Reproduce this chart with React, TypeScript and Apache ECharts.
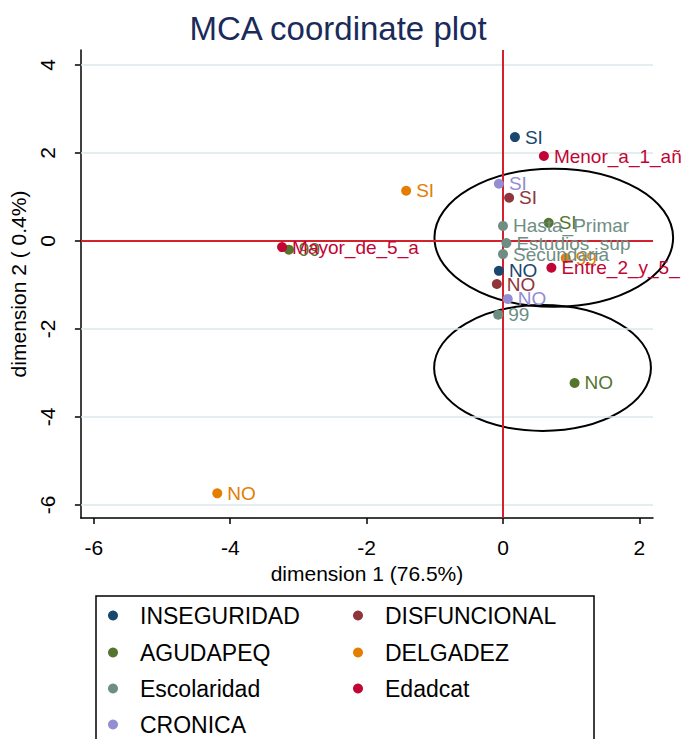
import React, { useEffect, useRef } from "react";
import * as echarts from "echarts";

const FONT = "'Liberation Sans', Arial, Helvetica, sans-serif";

const seriesNames = ["INSEGURIDAD", "DISFUNCIONAL", "AGUDAPEQ", "DELGADEZ", "Escolaridad", "Edadcat", "CRONICA"];
const seriesColors = ["#1a476f", "#90353b", "#55752f", "#e37e00", "#6e8e84", "#c10534", "#938dd2"];

// [dimension1, dimension2, category label]
const inseguridad: [number, number, string][] = [[0.175, 2.36, "SI"], [-0.06, -0.68, "NO"]];
const disfuncional: [number, number, string][] = [[0.09, 0.98, "SI"], [-0.09, -0.98, "NO"]];
const agudapeq: [number, number, string][] = [[0.67, 0.41, "SI"], [1.05, -3.23, "NO"], [-3.14, -0.2, "99"]];
const delgadez: [number, number, string][] = [[-1.42, 1.14, "SI"], [-4.19, -5.74, "NO"], [0.92, -0.39, "99"]];
const escolaridad: [number, number, string][] = [
  [0.0, 0.34, "Hasta_Primar"],
  [0.05, -0.05, "Estudios_sup"],
  [0.0, -0.3, "Secundaria"],
  [-0.07, -1.68, "99"],
];
const edadcat: [number, number, string][] = [[0.6, 1.93, "Menor_a_1_añ"], [0.71, -0.61, "Entre_2_y_5_"], [-3.24, -0.14, "Mayor_de_5_a"]];
const cronica: [number, number, string][] = [[-0.06, 1.3, "SI"], [0.07, -1.32, "NO"]];
const allSeries = [inseguridad, disfuncional, agudapeq, delgadez, escolaridad, edadcat, cronica];

// ellipses: [cx, cy, rx, ry] in data units
const ellipses: [number, number, number, number][] = [[0.745, 0.07, 1.75, 1.57], [0.58, -2.89, 1.59, 1.43]];

const xTicks = [-6, -4, -2, 0, 2];
const yTicks = [-6, -4, -2, 0, 2, 4];

// legend layout: [column, row]
const legendPos: [number, number][] = [[0, 0], [1, 0], [0, 1], [1, 1], [0, 2], [1, 2], [0, 3]];

export default function App() {
  const ref = useRef<HTMLDivElement>(null);
  useEffect(() => {
    if (!ref.current) return;
    const chart = echarts.init(ref.current, undefined, { renderer: "svg" });
    const scatter = allSeries.map((arr, i) => ({
      name: seriesNames[i],
      type: "scatter",
      symbol: "circle",
      symbolSize: 10,
      z: 5,
      itemStyle: { color: seriesColors[i], opacity: 1 },
      label: {
        show: true,
        position: "right",
        distance: 5,
        formatter: "{b}",
        color: seriesColors[i],
        fontSize: 19,
        fontFamily: FONT,
      },
      data: arr.map((d) => ({ name: d[2], value: [d[0], d[1]] })),
    }));
    const legends = seriesNames.map((n, i) => {
      const [col, row] = legendPos[i];
      const rowCenters = [615, 652, 688, 724];
      return {
        data: [n],
        left: col === 0 ? 103 : 348,
        top: rowCenters[row] - 16,
        icon: "circle",
        itemWidth: 10,
        itemHeight: 10,
        selectedMode: false,
        textStyle: { fontSize: 23, color: "#000", fontFamily: FONT, padding: [0, 0, 0, 17] },
      };
    });
    chart.setOption({
      animation: false,
      backgroundColor: "#fff",
      title: {
        text: "MCA coordinate plot",
        left: 333,
        textAlign: "center",
        top: 7,
        textStyle: { fontSize: 33, fontWeight: "normal", color: "#1a2a5a", fontFamily: FONT },
      },
      grid: { left: 78, right: 30, top: 50, bottom: 221 },
      legend: legends,
      xAxis: {
        type: "value",
        min: -6.19,
        max: 2.2,
        name: "dimension 1 (76.5%)",
        nameLocation: "middle",
        nameGap: 40,
        nameTextStyle: { fontSize: 21, color: "#000", fontFamily: FONT },
        axisLine: { onZero: false, lineStyle: { color: "#000", width: 1.5 } },
        axisTick: { show: true, length: 6, customValues: xTicks, lineStyle: { color: "#000", width: 1.5 } },
        axisLabel: { customValues: xTicks, fontSize: 21, color: "#000", fontFamily: FONT, margin: 19 },
        splitLine: { show: false },
      },
      yAxis: {
        type: "value",
        min: -6.3,
        max: 4.34,
        name: "dimension 2 ( 0.4%)",
        nameLocation: "middle",
        nameRotate: 90,
        nameGap: 46,
        nameTextStyle: { fontSize: 21, color: "#000", fontFamily: FONT },
        axisLine: { onZero: false, lineStyle: { color: "#000", width: 1.5 } },
        axisTick: { show: true, length: 6, customValues: yTicks, lineStyle: { color: "#000", width: 1.5 } },
        axisLabel: { customValues: yTicks, rotate: 90, fontSize: 21, color: "#000", fontFamily: FONT, margin: 23 },
        splitLine: { show: false },
      },
      graphic: [
        {
          type: "rect",
          shape: { x: 96, y: 596, width: 498, height: 200 },
          style: { fill: "none", stroke: "#000", lineWidth: 1.5 },
          silent: true,
        },
      ],
      series: [
        {
          type: "line",
          data: [],
          silent: true,
          z: 1,
          markLine: {
            silent: true,
            symbol: "none",
            label: { show: false },
            lineStyle: { color: "#dbe8ec", width: 1.5, type: "solid" },
            data: yTicks.filter((v) => v !== 0).map((v) => ({ yAxis: v })),
          },
        },
        {
          type: "line",
          data: [],
          silent: true,
          z: 2,
          markLine: {
            silent: true,
            symbol: "none",
            label: { show: false },
            lineStyle: { color: "#d5202e", width: 2, type: "solid" },
            data: [{ xAxis: 0 }, { yAxis: 0 }],
          },
        },
        {
          type: "custom",
          clip: false,
          silent: true,
          z: 4,
          renderItem: (params: any, api: any) => {
            const c = api.coord([api.value(0), api.value(1)]);
            const s = api.size([api.value(2), api.value(3)]);
            return {
              type: "ellipse",
              shape: { cx: c[0], cy: c[1], rx: s[0], ry: s[1] },
              style: { fill: "none", stroke: "#000", lineWidth: 2 },
            };
          },
          data: ellipses,
        },
        ...scatter,
      ],
    });
    return () => chart.dispose();
  }, []);
  return <div ref={ref} style={{ position: "absolute", left: 0, top: 0, width: 683, height: 739 }} />;
}
